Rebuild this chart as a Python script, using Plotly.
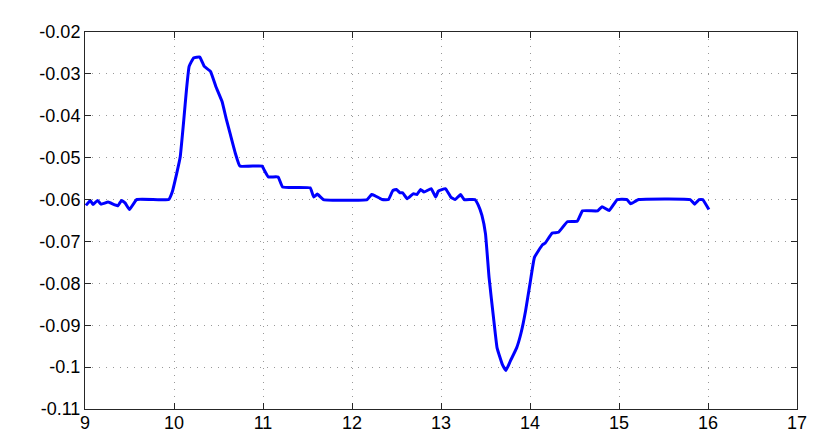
import plotly.graph_objects as go

# time (x) and signal (y)
time = [9.01, 9.06, 9.09, 9.14, 9.18, 9.26, 9.37, 9.41, 9.45, 9.50, 9.58, 9.94,
        9.98, 10.03, 10.07, 10.11, 10.14, 10.17, 10.22, 10.29, 10.34, 10.41, 10.47,
        10.54, 10.59, 10.63, 10.69, 10.74, 10.99, 11.01, 11.06, 11.17, 11.22, 11.53,
        11.57, 11.61, 11.68, 12.17, 12.22, 12.26, 12.34, 12.41, 12.46, 12.50, 12.54,
        12.57, 12.62, 12.69, 12.73, 12.77, 12.81, 12.89, 12.94, 12.97, 13.05, 13.11,
        13.16, 13.22, 13.26, 13.38, 13.42, 13.46, 13.50, 13.54, 13.59, 13.63, 13.69,
        13.73, 13.78, 13.85, 13.90, 13.95, 14.00, 14.05, 14.14, 14.17, 14.25, 14.32,
        14.42, 14.53, 14.59, 14.76, 14.81, 14.89, 14.98, 15.09, 15.13, 15.22, 15.80,
        15.85, 15.90, 15.94, 16.01]
signal = [-0.0614, -0.0602, -0.0612, -0.0602, -0.0611, -0.0606, -0.0615, -0.0602,
          -0.0608, -0.0624, -0.0600, -0.0600, -0.0582, -0.0538, -0.0498, -0.0410,
          -0.0338, -0.0282, -0.0262, -0.0260, -0.0282, -0.0294, -0.0330, -0.0366,
          -0.0410, -0.0442, -0.0490, -0.0520, -0.0520, -0.0528, -0.0546, -0.0546,
          -0.0570, -0.0572, -0.0594, -0.0587, -0.0600, -0.0600, -0.0588, -0.0591,
          -0.0600, -0.0600, -0.0578, -0.0576, -0.0584, -0.0584, -0.0598, -0.0586,
          -0.0588, -0.0576, -0.0582, -0.0574, -0.0594, -0.0580, -0.0574, -0.0594,
          -0.0600, -0.0588, -0.0600, -0.0600, -0.0614, -0.0638, -0.0682, -0.0786,
          -0.0882, -0.0954, -0.0994, -0.1008, -0.0985, -0.0954, -0.0918, -0.0866,
          -0.0801, -0.0738, -0.0708, -0.0704, -0.0680, -0.0678, -0.0653, -0.0652,
          -0.0627, -0.0627, -0.0617, -0.0626, -0.0600, -0.0600, -0.0610, -0.0600,
          -0.0600, -0.0611, -0.0600, -0.0600, -0.0624]

x_ticks = [9, 10, 11, 12, 13, 14, 15, 16, 17]
y_ticks = [-0.11, -0.10, -0.09, -0.08, -0.07, -0.06, -0.05, -0.04, -0.03, -0.02]
y_labels = ['-0.11', '-0.1', '-0.09', '-0.08', '-0.07', '-0.06', '-0.05',
            '-0.04', '-0.03', '-0.02']

fig = go.Figure()
fig.add_trace(go.Scatter(x=time, y=signal, mode='lines', line_shape='spline',
                         line=dict(color='#0000ff', width=3, smoothing=0.3)))

axis_style = dict(
    showline=True, linecolor='#262626', linewidth=1, mirror='ticks',
    ticks='inside', ticklen=6, tickcolor='#262626',
    showgrid=True, gridcolor='#999999', griddash='1px,6px', gridwidth=1,
    zeroline=False, automargin=False,
    tickfont=dict(family='Liberation Sans, Arial', size=18, color='black'),
)

fig.update_xaxes(range=[9, 17], tickvals=x_ticks,
                 ticktext=[str(v) for v in x_ticks], ticklabelstandoff=-3,
                 **axis_style)
fig.update_yaxes(range=[-0.11, -0.02], tickvals=y_ticks, ticktext=y_labels,
                 **axis_style)

# page body adds an 8px margin, so the figure is sized to fit inside it
fig.update_layout(
    width=814, height=427,
    margin=dict(l=77, r=25, t=24, b=26),
    plot_bgcolor='white', paper_bgcolor='white',
    showlegend=False,
)

fig.write_html("out.html")
